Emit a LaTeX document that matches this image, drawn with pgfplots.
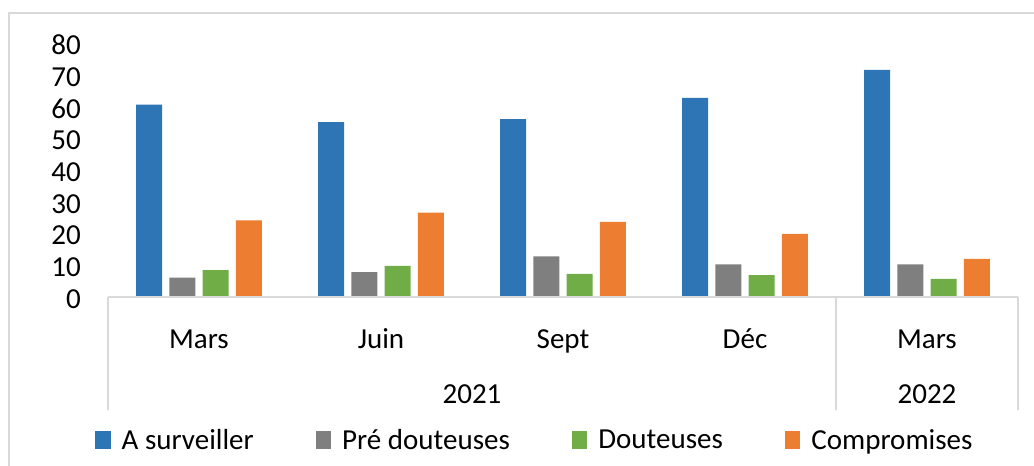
\documentclass[border=0pt]{standalone}
\usepackage{pgfplots}
\pgfplotsset{compat=1.18}
\usepackage{fontspec}
\setmainfont{Carlito}
\definecolor{cblue}{HTML}{2E75B6}
\definecolor{cgray}{HTML}{7F7F7F}
\definecolor{cgreen}{HTML}{70AD47}
\definecolor{corange}{HTML}{ED7D31}
\definecolor{cline}{HTML}{D9D9D9}
\newcommand\cf{\fontsize{29}{34}\selectfont}
\pgfplotsset{sqleg/.style={legend image code/.code={\fill[##1] (0pt,-9pt) rectangle (15.5pt,9pt);}}}
\begin{document}
\begin{tikzpicture}[x=1pt,y=1pt]
\useasboundingbox (0,0) rectangle (1034,466);
\draw[cline, line width=2pt] (9,0) -- (9,453) -- (1034,453);
\begin{axis}[
  at={(108pt,169pt)}, anchor=south west,
  scale only axis, width=910pt, height=254pt,
  xmin=0, xmax=5, ymin=0, ymax=80,
  ytick={0,10,...,80},
  xtick={0.5,1.5,2.5,3.5,4.5},
  xticklabels={Mars,Juin,Sept,Déc,Mars},
  major tick length=0pt,
  axis line style={draw=none},
  ybar=7.2pt, bar width=26pt,
  /pgf/number format/assume math mode=true,
  every tick label/.append style={font=\cf},
  yticklabel style={inner sep=0pt, anchor=east, xshift=-27pt, yshift=-2pt},
  xticklabel style={inner sep=0pt, anchor=base, yshift=-51pt},
  legend style={at={(-0.0143,-0.563)}, anchor=west, draw=none, fill=none, inner sep=0pt, font=\cf,
    legend columns=4,
    /tikz/every odd column/.append style={column sep=9pt},
    /tikz/every even column/.append style={column sep=60pt}},
  legend cell align=left,
  clip=false,
]
\addplot[fill=cblue, draw=none, sqleg] coordinates {(0.5,60.6) (1.5,55.1) (2.5,56.0) (3.5,62.7) (4.5,71.5)};
\addplot[fill=cgray, draw=none, sqleg] coordinates {(0.5,6.1) (1.5,7.8) (2.5,12.8) (3.5,10.3) (4.5,10.3)};
\addplot[fill=cgreen, draw=none, sqleg] coordinates {(0.5,8.5) (1.5,9.8) (2.5,7.3) (3.5,6.9) (4.5,5.7)};
\addplot[fill=corange, draw=none, sqleg] coordinates {(0.5,24.1) (1.5,26.6) (2.5,23.7) (3.5,19.9) (4.5,12.0)};
\legend{A surveiller, Pré douteuses, Douteuses, Compromises}
\draw[cline, line width=2pt] (axis cs:0,0) -- (axis cs:5,0);
\draw[cline, line width=2pt] (axis cs:0,0) -- ++(0pt,-113pt);
\draw[cline, line width=2pt] (axis cs:4,0) -- ++(0pt,-113pt);
\draw[cline, line width=2pt] (axis cs:5,0) -- ++(0pt,-113pt);
\node[font=\cf, anchor=base, inner sep=0pt, yshift=-106pt] at (axis cs:2,0) {2021};
\node[font=\cf, anchor=base, inner sep=0pt, yshift=-106pt] at (axis cs:4.5,0) {2022};
\end{axis}
\end{tikzpicture}
\end{document}
